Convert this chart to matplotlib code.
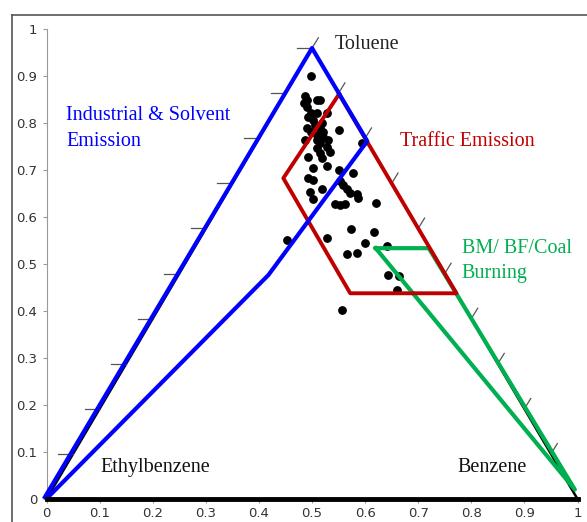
import matplotlib
matplotlib.use("Agg")
import matplotlib.pyplot as plt
from matplotlib.lines import Line2D

# triangle corners (ethylbenzene, toluene, benzene)
tri_x = [0.0, 0.5, 1.0, 0.0]
tri_y = [0.0, 0.96, 0.0, 0.0]

# source regions
ind_x = [-0.003, 0.5, 0.604, 0.418, 0.003]
ind_y = [0.004, 0.96, 0.762, 0.477, 0.004]
traf_x = [0.551, 0.446, 0.572, 0.772, 0.551]
traf_y = [0.862, 0.683, 0.438, 0.438, 0.862]
burn_x = [0.62, 0.72, 0.995, 0.62]
burn_y = [0.534, 0.534, 0.02, 0.534]

# samples
pts_x = [0.498, 0.487, 0.490, 0.509, 0.515, 0.490, 0.499, 0.493, 0.509, 0.528,
         0.501, 0.518, 0.515, 0.521, 0.490, 0.499, 0.551, 0.487, 0.509, 0.515,
         0.531, 0.594, 0.509, 0.528, 0.534, 0.515, 0.493, 0.518, 0.502, 0.528,
         0.550, 0.577, 0.493, 0.501, 0.553, 0.559, 0.518, 0.496, 0.565, 0.572,
         0.584, 0.502, 0.587, 0.543, 0.553, 0.563, 0.620, 0.453, 0.528, 0.573,
         0.616, 0.600, 0.566, 0.585, 0.641, 0.644, 0.663, 0.661, 0.557, 0.484,
         0.506, 0.509, 0.521]
pts_y = [0.901, 0.857, 0.849, 0.849, 0.849, 0.835, 0.821, 0.814, 0.821, 0.821,
         0.807, 0.800, 0.789, 0.782, 0.789, 0.782, 0.786, 0.764, 0.764, 0.757,
         0.764, 0.757, 0.747, 0.750, 0.739, 0.736, 0.729, 0.725, 0.704, 0.709,
         0.700, 0.693, 0.683, 0.679, 0.676, 0.669, 0.661, 0.654, 0.660, 0.651,
         0.649, 0.639, 0.641, 0.628, 0.626, 0.628, 0.631, 0.551, 0.555, 0.574,
         0.569, 0.545, 0.521, 0.523, 0.538, 0.477, 0.475, 0.446, 0.402, 0.844,
         0.796, 0.775, 0.770]

ticks = [0, 0.1, 0.2, 0.3, 0.4, 0.5, 0.6, 0.7, 0.8, 0.9, 1]
tick_labels = ["0", "0.1", "0.2", "0.3", "0.4", "0.5", "0.6", "0.7", "0.8", "0.9", "1"]

fig = plt.figure(figsize=(5.87, 5.22), dpi=100)
ax = fig.add_axes([46.5 / 587, 23 / 522, 531 / 587, 469.7 / 522])

# outer frame (cropped on right and bottom)
fig.add_artist(Line2D([12 / 587, 12 / 587], [0, 1 - 15 / 522], transform=fig.transFigure,
                      color="#555555", lw=1.2))
fig.add_artist(Line2D([12 / 587, 1], [1 - 15 / 522, 1 - 15 / 522], transform=fig.transFigure,
                      color="#555555", lw=1.2))

ax.set_xlim(0, 1)
ax.set_ylim(0, 1)
ax.set_xticks(ticks)
ax.set_xticklabels(tick_labels)
ax.set_yticks(ticks)
ax.set_yticklabels(tick_labels)
for s in ["top", "right"]:
    ax.spines[s].set_visible(False)
ax.spines["left"].set_color("#999999")
ax.spines["bottom"].set_color("#999999")
ax.tick_params(colors="#999999", labelcolor="#333333", labelsize=9.5, length=3, width=0.8)
ax.tick_params(axis="x", pad=3)

ax.scatter(pts_x, pts_y, s=28, color="black", zorder=2, clip_on=False)

# triangle with side ticks
ax.plot(tri_x[:3], tri_y[:3], color="black", lw=1.8, zorder=1, clip_on=False)
ax.plot([0, 1], [0, 0], color="black", lw=3.5, zorder=5, clip_on=False)
for k in range(1, 11):
    f = k / 10
    lx, ly = 0.5 * f, 0.96 * f
    ax.plot([lx - 0.028, lx], [ly, ly], color="#555555", lw=0.9, zorder=1, clip_on=False)
    rx, ry = 1 - 0.5 * f, 0.96 * f
    ax.plot([rx, rx + 0.012], [ry, ry + 0.022], color="#555555", lw=0.9, zorder=1, clip_on=False)

ax.plot(burn_x, burn_y, color="#00b050", lw=3, zorder=3, clip_on=False)
ax.plot(traf_x, traf_y, color="#c00000", lw=2.8, zorder=3, clip_on=False)
ax.plot(ind_x, ind_y, color="#0000ff", lw=3, zorder=4, clip_on=False)

font = dict(family="Liberation Serif", fontsize=14.5)
ax.text(0.543, 0.967, "Toluene", color="#222222", va="center", **font)
ax.text(0.037, 0.789, "Industrial & Solvent\nEmission", color="#0000ff", va="center",
        linespacing=1.45, **font)
ax.text(0.666, 0.762, "Traffic Emission", color="#c00000", va="center", **font)
ax.text(0.782, 0.507, "BM/ BF/Coal\nBurning", color="#00b050", va="center",
        linespacing=1.45, **font)
ax.text(0.101, 0.066, "Ethylbenzene", color="#111111", va="center", **font)
ax.text(0.773, 0.068, "Benzene", color="#111111", va="center", **font)

fig.savefig("out.png", dpi=100)
